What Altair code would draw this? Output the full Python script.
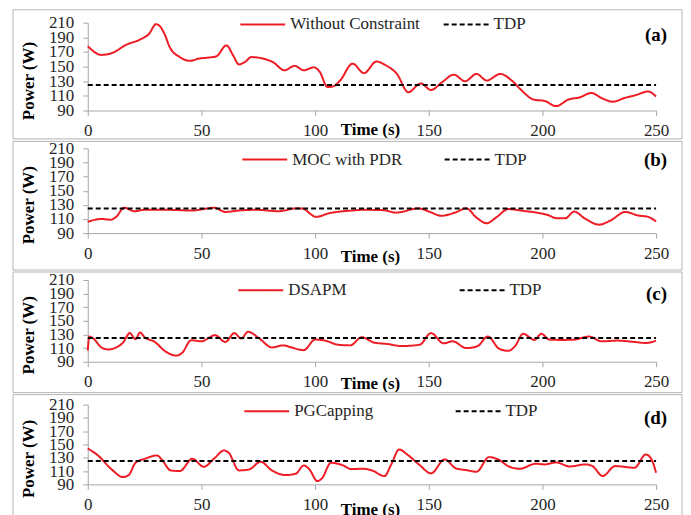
import altair as alt
import pandas as pd

# ---------------- data ----------------
TDP = 125
tdp_time = [0, 250]

series_names = ["Without Constraint", "MOC with PDR", "DSAPM", "PGCapping"]
panel_letters = ["(a)", "(b)", "(c)", "(d)"]

time_a = [0, 6, 11, 17, 23, 27, 30, 31.5, 34, 36, 40.5, 45, 49, 52, 56.5, 61, 64, 66.5, 69, 72,
          77, 81.5, 86.5, 91, 95, 99.5, 102, 105.5, 108, 111, 116.5, 121.5, 127, 131, 136, 141,
          146.5, 151, 156, 161, 166, 171, 175.5, 181.5, 186.5, 191, 196, 201, 206, 211.5, 216.5,
          221.5, 226, 231, 236, 241, 246.5, 250]
power_a = [178, 166, 169, 180, 187, 195, 208, 206, 193, 177, 163, 158, 161, 162, 164, 179, 165, 153, 156, 163,
           161, 156, 145, 151, 145, 149, 143, 122, 123, 131, 154, 141, 157, 152, 140, 115,
           127, 118, 129, 139, 130, 140, 131, 140, 131, 117, 105, 103, 96, 105, 108,
           114, 107, 102, 107, 111, 116, 109]

time_b = [0, 6, 10, 12.5, 16, 20.5, 25, 35, 45.5, 53, 55.5, 60.5, 66.5, 74, 84, 91.5, 94, 100.5, 106,
          116.5, 121, 130, 135.5, 145.5, 150.5, 155.5, 161.5, 166.5, 171, 175.5, 180, 185, 191.5,
          197.5, 202, 206.5, 210, 214, 218.5, 225, 230, 236.5, 242, 246.5, 250]
power_b = [106, 110, 109, 113, 126, 121, 123, 123, 122, 125, 126, 120, 122, 123, 121, 125, 125, 113, 118,
           122, 123, 122.5, 119, 125, 120, 114.5, 119, 125, 112, 104, 113, 124, 121.5,
           119, 116, 111, 111, 120.5, 111, 102, 108, 120, 115, 113, 106.5]

time_c = [0, 0.7, 2.5, 6, 9, 12.5, 15.5, 18.5, 21, 23, 25, 29.5, 34, 39, 41.5, 45.5, 50, 56, 60.5,
          64.5, 67.5, 70.5, 75.5, 81, 86, 89.5, 95, 100, 104.5, 110, 115.5, 120.5, 126, 132, 138,
          146, 151, 156.5, 160.5, 166.5, 171.5, 176, 181, 185, 188, 191.5, 196.5, 199.5, 203,
          208.5, 214, 220.5, 226, 233, 240.5, 245.5, 250]
power_c = [106.5, 127, 124, 111, 108, 111, 118, 132, 123, 133, 126, 119, 105.5, 99, 103, 121.5, 120, 129, 119,
           132, 124, 134, 124, 111, 114, 111, 107, 122.5, 121, 115, 114, 126, 118, 116, 113,
           115, 132, 117, 120, 110, 113, 127, 109, 106, 113, 131, 122, 131, 122.5,
           122, 122.5, 127, 120, 121, 119, 117.5, 121]

time_d = [0, 4.5, 10.5, 15.5, 18, 21, 25.5, 30.5, 32.5, 36.5, 40.5, 46, 51, 55.5, 60, 62, 66.5, 71,
          76, 81, 87, 91.5, 95, 97.5, 101, 103, 107, 112, 116, 121, 125, 130.5, 133.5, 137,
          140.5, 146, 151, 157, 162, 166.5, 171, 176.5, 180.5, 185.5, 190, 197, 201, 206, 212,
          219, 222, 226.5, 232, 240.5, 245.5, 248, 250]
power_d = [144, 133.5, 112.5, 101, 104, 122.5, 129, 133.5, 127.5, 111, 110, 128.5, 116.5, 128.5, 141, 137.5, 111, 112.5,
           124, 111, 104, 106, 118.5, 112.5, 95, 99, 122.5, 119, 113, 113.5, 111, 102.5, 120, 142.5,
           135, 119, 106.5, 127.5, 114, 111.5, 109, 131, 127.5, 116.5, 113.5, 121, 120, 123, 117,
           120, 117.5, 102.5, 117.5, 115, 135, 127.5, 107.5]

times = [time_a, time_b, time_c, time_d]
powers = [power_a, power_b, power_c, power_d]

x_ticks = [0, 50, 100, 150, 200, 250]
y_ticks = [90, 110, 130, 150, 170, 190, 210]

# ---------------- style / layout ----------------
RED = "#ee1c25"
GRAY = "#a6a6a6"
BORDER = "#b4b4b4"
TXT = "#262626"
FONT = "Liberation Serif"
W = 570

heights = [88, 85, 82, 80]
rect_top = [13, 7, 8, 10]
rect_bottom = [28.5, 37, 31, 46]
leg_x = [153, 155, 151, 157]
leg_center = [1.5, 11, 10, 6.3]
col_pad = [19, 38, 109, 78]
xtitle_y = [19, 23, 22, 25]
letter_y = [12, 12, 14, 13]

# wide flat legend symbol (45 px line from a small symbol size)
SYM_PATH = "M-5,0H5"
SYM_SIZE = 81


def make_panel(i):
    name = series_names[i]
    h = heights[i]
    t = times[i]
    p = powers[i]
    df = pd.DataFrame({
        "t": list(t) + tdp_time,
        "power": list(p) + [TDP, TDP],
        "series": [name] * len(t) + ["TDP", "TDP"],
    })
    legend = alt.Legend(
        orient="none", legendX=leg_x[i] + 14, legendY=leg_center[i] - 8.5,
        direction="horizontal", title=None, symbolType=SYM_PATH,
        symbolSize=SYM_SIZE, symbolStrokeWidth=2, labelFontSize=17, labelFont=FONT,
        labelColor=TXT, columnPadding=col_pad[i], labelOffset=19, padding=0,
    )
    lines = alt.Chart(df).mark_line(interpolate="monotone", strokeWidth=2).encode(
        x=alt.X("t:Q", scale=alt.Scale(domain=[0, 250], nice=False),
                axis=alt.Axis(values=x_ticks, grid=False, labelFlush=False,
                              labelFontSize=17, labelPadding=7, tickSize=5,
                              title="Time (s)", titleX=283, titleY=xtitle_y[i],
                              titleAlign="center", titleBaseline="middle")),
        y=alt.Y("power:Q", scale=alt.Scale(domain=[90, 210], nice=False),
                axis=alt.Axis(values=y_ticks, grid=False, labelOverlap=False,
                              labelFontSize=17, labelPadding=9, tickSize=5,
                              title="Power (W)", titleX=-59, titleY=h / 2 + 14,
                              titleAngle=270, titleAlign="center", titleBaseline="middle")),
        color=alt.Color("series:N", scale=alt.Scale(domain=[name, "TDP"], range=[RED, "#000000"]),
                        legend=legend),
        strokeDash=alt.StrokeDash("series:N",
                                  scale=alt.Scale(domain=[name, "TDP"], range=[[1, 0], [5, 3]]),
                                  legend=legend),
    )
    border = alt.Chart(pd.DataFrame({"k": [0]})).mark_rect(
        fillOpacity=0, stroke=BORDER, strokeWidth=1
    ).encode(
        x=alt.value(-75), x2=alt.value(W + 26),
        y=alt.value(-rect_top[i]), y2=alt.value(h + rect_bottom[i]),
    )
    letter = alt.Chart(pd.DataFrame({"label": [panel_letters[i]]})).mark_text(
        font=FONT, fontSize=19, fontWeight="bold", align="right", baseline="middle", color="#000"
    ).encode(
        x=alt.value(581), y=alt.value(letter_y[i]), text="label:N"
    )
    return alt.layer(border, lines, letter).properties(width=W, height=h)


chart = alt.vconcat(*[make_panel(i) for i in range(4)], spacing=0).properties(
    padding={"left": 4, "top": 0, "right": 0, "bottom": 0}
).configure_view(stroke=None).configure_axis(
    labelFont=FONT, titleFont=FONT, labelColor=TXT, titleColor="#000",
    titleFontSize=17, titleFontWeight="bold",
    domainColor=GRAY, tickColor=GRAY,
).resolve_scale(color="independent", strokeDash="independent")

chart.save("out.html", embed_options={"renderer": "svg", "actions": False})
